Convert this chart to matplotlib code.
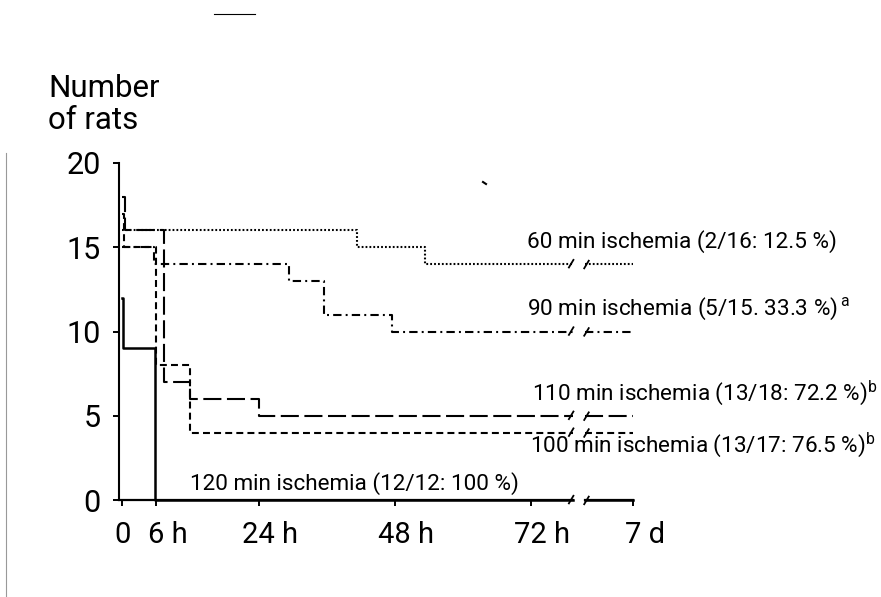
import matplotlib
matplotlib.use("Agg")
import matplotlib.pyplot as plt
from matplotlib.lines import Line2D

plt.rcParams['font.family'] = ['Roboto', 'DejaVu Sans']
plt.rcParams['mathtext.fontset'] = 'custom'
plt.rcParams['mathtext.rm'] = 'Roboto'
plt.rcParams['lines.scale_dashes'] = False

# survival curves: time (h) where the count changes, number of rats alive
t_60 = [0, 41.4, 53.3]
n_60 = [16, 15, 14]
t_90 = [0, 5.5, 29.4, 35.6, 47.5]
n_90 = [15, 14, 13, 11, 10]
t_100 = [0, 0.2, 6.0, 12.0]
n_100 = [17, 15, 8, 4]
t_110 = [0, 0.5, 7.3, 12.0, 24.0]
n_110 = [18, 16, 7, 6, 5]
t_120 = [0, 0.1, 5.8]
n_120 = [12, 9, 0]

labels = {
    '60': "60 min ischemia (2/16: 12.5 %)",
    '90': "90 min ischemia (5/15. 33.3 %)$^{\\,\\mathrm{a}}$",
    '110': "110 min ischemia (13/18: 72.2 %)$^{\\mathrm{b}}$",
    '100': "100 min ischemia (13/17: 76.5 %)$^{\\mathrm{b}}$",
    '120': "120 min ischemia (12/12: 100 %)",
}
# label anchor (h, rats) for each curve
label_pos = {'60': (71.3, 14.95), '90': (71.3, 11.0), '110': (72.2, 5.93),
             '100': (71.8, 2.85), '120': (12.0, 0.6)}

x_ticks = [0, 6, 24, 48, 72, 90]
x_tick_num = ["0", "6", "24", "48", "72", "7"]
x_tick_unit = ["", " h", " h", " h", " h", " d"]
y_ticks = [0, 5, 10, 15, 20]

BREAK_L = 79.4   # axis break (72 h ... 7 d)
BREAK_R = 81.5
T_END = 90
LW = 1.5

styles = {
    '60': dict(linestyle=(0, (1.3, 1.5))),
    '90': dict(linestyle=(0, (6, 3, 1.4, 3))),
    '100': dict(linestyle=(0, (5, 3))),
    '110': dict(linestyle=(0, (13, 4))),
    '120': dict(linestyle='-', lw=1.8),
}

fig = plt.figure(figsize=(8.81, 5.97), dpi=100)
ax = fig.add_axes([119/881, 97/597, 514/881, 337/597])
ax.set_xlim(-0.6, T_END)
ax.set_ylim(0, 20)


def draw_break(y):
    ax.plot([BREAK_L - 0.7, BREAK_L + 0.1], [y - 0.2, y + 0.25], color='black', lw=1.3, clip_on=False)
    ax.plot([BREAK_R - 0.1, BREAK_R + 0.7], [y - 0.25, y + 0.2], color='black', lw=1.3, clip_on=False)


def draw_curve(t, n, key):
    st = dict(color='black', lw=LW, clip_on=False, dash_capstyle='butt')
    st.update(styles[key])
    ax.plot(list(t) + [BREAK_L], list(n) + [n[-1]], drawstyle='steps-post', **st)
    ax.plot([BREAK_R, T_END], [n[-1], n[-1]], **st)
    draw_break(n[-1])


# x axis with break
for sp in ['top', 'right', 'bottom']:
    ax.spines[sp].set_visible(False)
ax.spines['left'].set_linewidth(1.5)
ax.plot([-0.6, BREAK_L], [0, 0], color='black', lw=1.6, clip_on=False)
ax.plot([BREAK_R, T_END], [0, 0], color='black', lw=1.6, clip_on=False)

draw_curve(t_60, n_60, '60')
draw_curve(t_90, n_90, '90')
draw_curve(t_100, n_100, '100')
draw_curve(t_110, n_110, '110')
draw_curve(t_120, n_120, '120')

for k, s in labels.items():
    x, y = label_pos[k]
    ax.text(x, y, s, fontsize=16.2, ha='left', va='baseline')

fs = 21
ax.set_xticks(x_ticks)
ax.set_xticklabels([])
ax.tick_params(axis='x', length=4, width=1.4, direction='out')
for x, num, unit in zip(x_ticks, x_tick_num, x_tick_unit):
    off = -len(num) * 0.562 * fs / 2
    ax.annotate(num + unit, xy=(x, 0), xytext=(off, -31), textcoords='offset points',
                fontsize=fs, ha='left', va='baseline', annotation_clip=False)

ax.set_yticks(y_ticks)
ax.tick_params(axis='y', length=4, width=1.4, direction='out', labelsize=22, pad=9)

fig.text(48/881, 1 - 97/597, "Number", fontsize=22.5, ha='left', va='baseline')
fig.text(48/881, 1 - 129/597, "of rats", fontsize=22.5, ha='left', va='baseline')

# scan specks
fig.add_artist(Line2D([214/881, 255/881], [1 - 14/597, 1 - 14/597], color='black', lw=0.8))
fig.add_artist(Line2D([6/881, 6/881], [1 - 153/597, 0], color='0.6', lw=0.8))
fig.add_artist(Line2D([483/881, 486/881], [1 - 182/597, 1 - 184/597], color='black', lw=1.5))

fig.savefig("out.png", dpi=100, facecolor='white')
